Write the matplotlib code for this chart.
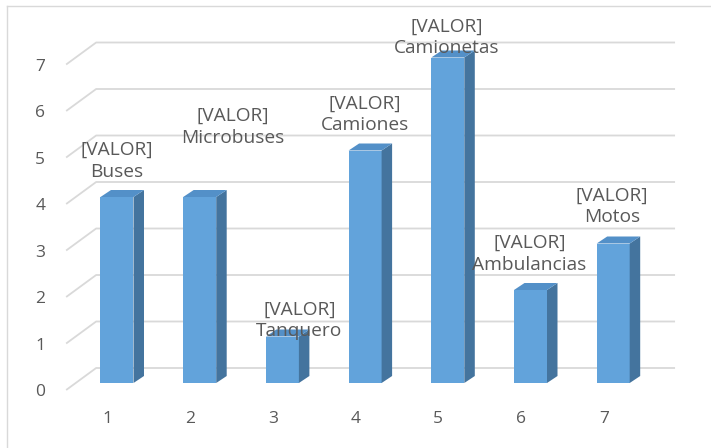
import matplotlib
matplotlib.use("Agg")
import matplotlib.pyplot as plt
from matplotlib.patches import Polygon
from matplotlib.lines import Line2D

# ---- data ----
categories = ["1", "2", "3", "4", "5", "6", "7"]
values = [4, 4, 1, 5, 7, 2, 3]
names = ["Buses", "Microbuses", "Tanquero", "Camiones", "Camionetas", "Ambulancias", "Motos"]
yticks = [0, 1, 2, 3, 4, 5, 6, 7]

# label offsets (pixels) from bar top
lab_dx = [0, 33, 17, 0, -1, -1, -1]
lab_dy = [36, 70, 16, 36, 20, 36, 37]

plt.rcParams['font.family'] = ['Open Sans', 'DejaVu Sans']
TXT = '#595959'
GRID = '#D9D9D9'
FRONT = '#62A3DB'
SIDE = '#44749E'
TOP = '#5390C8'

W, H = 711, 448
fig = plt.figure(figsize=(W/100, H/100), dpi=100)
ax = fig.add_axes([0, 0, 1, 1])
# pixel mapping: bar centre i -> 117 + 82.7 i ; value v -> 383 - 46.5 v (from top)
ux, uy = 82.7, 46.5
ax.set_xlim(-117/ux, (W-117)/ux)
ax.set_ylim(-(H-383)/uy, 383/uy)
ax.axis('off')

fdx, fdy = -9.5/ux, -7/uy      # floor front edge
bdx, bdy = 20.5/ux, 15/uy      # back wall
ddx, ddy = 10.5/ux, 7/uy       # bar depth
xL, xR = -0.5, len(values) - 0.5
bw = 33/ux

for v in yticks:
    ax.plot([xL+fdx, xL+bdx, xR+bdx], [v+fdy, v+bdy, v+bdy], color=GRID, lw=1.3, zorder=1,
            solid_capstyle='butt')
    ax.text(xL+fdx-21/ux, v+fdy-2/uy, str(v), ha='right', va='center', color=TXT, fontsize=12.5)

xs = list(range(len(values)))
ax.bar(xs, values, width=bw, color=FRONT, zorder=3, linewidth=0)
for x, v in zip(xs, values):
    r, l = x + bw/2, x - bw/2
    ax.add_patch(Polygon([(r, 0), (r+ddx, ddy), (r+ddx, v+ddy), (r, v)], closed=True,
                         facecolor=SIDE, edgecolor='none', zorder=3))
    ax.add_patch(Polygon([(l, v), (l+ddx, v+ddy), (r+ddx, v+ddy), (r, v)], closed=True,
                         facecolor=TOP, edgecolor='none', zorder=3))

for x, c in zip(xs, categories):
    ax.text(x + fdx, -36/uy, c, ha='center', va='center', color=TXT, fontsize=12.5)

for x, v, n, dx, dy in zip(xs, values, names, lab_dx, lab_dy):
    ax.annotate("[VALOR]\n" + n, xy=(x, v), xytext=(dx, dy), textcoords='offset pixels',
                ha='center', va='center', color=TXT, fontsize=13.8, zorder=5,
                linespacing=1.28)

# chart area border
fig.add_artist(Line2D([6.5/W, 6.5/W], [0, 1-6.5/H], transform=fig.transFigure, color=GRID, lw=1))
fig.add_artist(Line2D([6.5/W, 1], [1-6.5/H, 1-6.5/H], transform=fig.transFigure, color=GRID, lw=1))

fig.savefig('out.png', dpi=100, facecolor='white')
